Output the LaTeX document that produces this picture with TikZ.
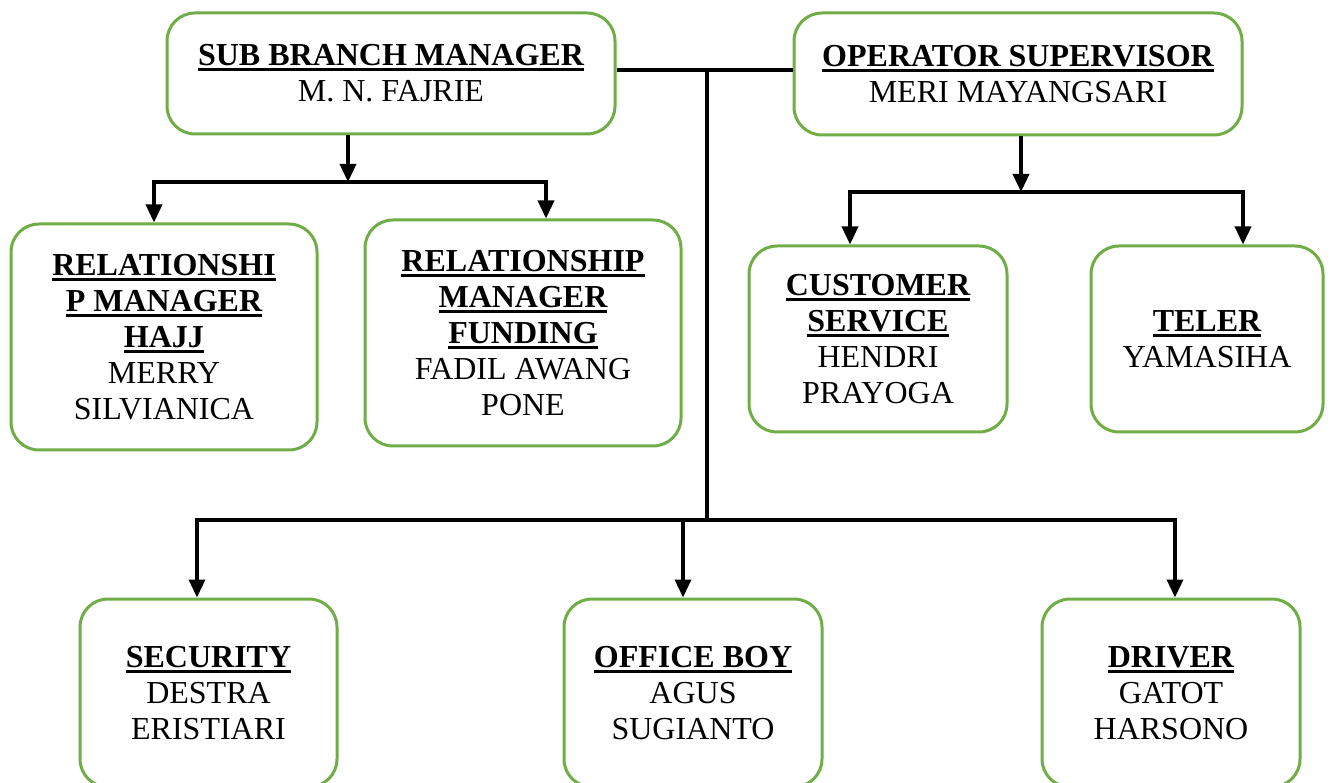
\documentclass[tikz,border=0pt]{standalone}
\usepackage{fontspec}
\setmainfont{Liberation Serif}
\usetikzlibrary{arrows.meta}
\definecolor{boxgreen}{HTML}{70AD47}
% bold heading with a heavy underline
\newcommand{\hd}[1]{\setbox0\hbox{\bfseries #1}\rlap{\rule[-5.5pt]{\wd0}{3pt}}\box0}
\tikzset{
	unitbox/.style={draw=boxgreen, line width=3pt, rounded corners=28pt, fill=white, align=center, inner sep=0pt},
	link/.style={line width=3.5pt},
	bar/.style={line width=4pt, line cap=rect},
}
\begin{document}
\begin{tikzpicture}[x=1pt, y=-1pt, font=\fontsize{32}{36}\selectfont, line join=round, >={Triangle[length=18pt,width=16pt]}]
	\useasboundingbox (0,0) rectangle (1334,783);
	\clip (0,0) rectangle (1334,783);
	% top row
	\node[unitbox, minimum width=448, minimum height=121] (sbm) at (391,73.5) {\hd{SUB BRANCH MANAGER}\\M. N. FAJRIE};
	\node[unitbox, minimum width=448, minimum height=122] (ops) at (1018,74) {\hd{OPERATOR SUPERVISOR}\\MERI MAYANGSARI};
	% second row
	\node[unitbox, minimum width=306, minimum height=226] (rmh) at (164,337) {\hd{RELATIONSHI}\\\hd{P MANAGER}\\\hd{HAJJ}\\MERRY\\SILVIANICA};
	\node[unitbox, minimum width=316, minimum height=226] (rmf) at (523,333) {\hd{RELATIONSHIP}\\\hd{MANAGER}\\\hd{FUNDING}\\FADIL AWANG\\PONE};
	\node[unitbox, minimum width=258, minimum height=186] (cs) at (878,339) {\hd{CUSTOMER}\\\hd{SERVICE}\\HENDRI\\PRAYOGA};
	\node[unitbox, minimum width=232, minimum height=186] (tel) at (1207,339) {\hd{TELER}\\YAMASIHA};
	% bottom row
	\node[unitbox, minimum width=257, minimum height=188] (sec) at (208.5,693) {\hd{SECURITY}\\DESTRA\\ERISTIARI};
	\node[unitbox, minimum width=258, minimum height=188] (ob) at (693,693) {\hd{OFFICE BOY}\\AGUS\\SUGIANTO};
	\node[unitbox, minimum width=258, minimum height=188] (drv) at (1171,693) {\hd{DRIVER}\\GATOT\\HARSONO};
	\coordinate (hubL) at (348,182);
	\coordinate (hubR) at (1021,192);
	\coordinate (bus) at (707,520);
	% sub branch manager branch
	\draw[link,->] (sbm.south -| hubL) -- (hubL);
	\draw[bar] ([xshift=-10]rmh.north |- hubL) -- ([xshift=23]rmf.north |- hubL);
	\draw[link,->] ([xshift=-10]rmh.north |- hubL) -- ([xshift=-10]rmh.north);
	\draw[link,->] ([xshift=23]rmf.north |- hubL) -- ([xshift=23]rmf.north);
	% operator supervisor branch
	\draw[link,->] (ops.south -| hubR) -- (hubR);
	\draw[bar] ([xshift=-28]cs.north |- hubR) -- ([xshift=36]tel.north |- hubR);
	\draw[link,->] ([xshift=-28]cs.north |- hubR) -- ([xshift=-28]cs.north);
	\draw[link,->] ([xshift=36]tel.north |- hubR) -- ([xshift=36]tel.north);
	% trunk to bottom row
	\draw[bar, line cap=butt] ([yshift=3.5]sbm.east) -- ([yshift=4]ops.west);
	\draw[link] ([yshift=3.5]sbm.east -| bus) -- (bus);
	\draw[bar] ([xshift=-11.5]sec.north |- bus) -- ([xshift=4]drv.north |- bus);
	\foreach \unit/\dx in {sec/-11.5, ob/-10, drv/4}
		\draw[link,->] ([xshift=\dx]\unit.north |- bus) -- ([xshift=\dx]\unit.north);
\end{tikzpicture}
\end{document}
